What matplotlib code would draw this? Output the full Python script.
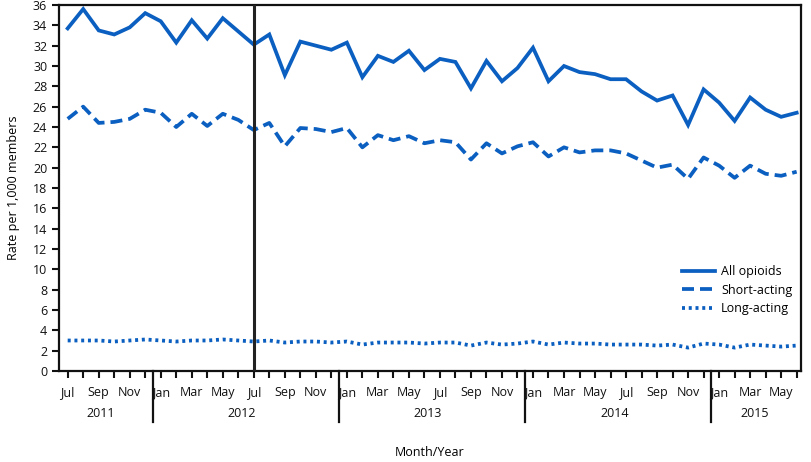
import matplotlib
matplotlib.use("Agg")
import matplotlib.pyplot as plt
import matplotlib.transforms as mtransforms

plt.rcParams['font.family'] = ['Open Sans', 'DejaVu Sans']

months = ["Jul", "Aug", "Sep", "Oct", "Nov", "Dec"] + \
         ["Jan", "Feb", "Mar", "Apr", "May", "Jun", "Jul", "Aug", "Sep", "Oct", "Nov", "Dec"] * 3 + \
         ["Jan", "Feb", "Mar", "Apr", "May", "Jun"]

all_opioids = [33.7, 35.6, 33.5, 33.1, 33.8, 35.2,
               34.4, 32.3, 34.5, 32.7, 34.7, 33.4, 32.1, 33.1, 29.1, 32.4, 32.0, 31.6,
               32.3, 28.9, 31.0, 30.4, 31.5, 29.6, 30.7, 30.4, 27.8, 30.5, 28.5, 29.8,
               31.8, 28.5, 30.0, 29.4, 29.2, 28.7, 28.7, 27.5, 26.6, 27.1, 24.2, 27.7,
               26.4, 24.6, 26.9, 25.7, 25.0, 25.4]
short_acting = [24.8, 26.0, 24.4, 24.5, 24.8, 25.7,
                25.4, 24.0, 25.3, 24.1, 25.3, 24.7, 23.7, 24.4, 22.1, 23.9, 23.8, 23.5,
                23.9, 22.0, 23.2, 22.7, 23.1, 22.4, 22.7, 22.5, 20.8, 22.4, 21.4, 22.1,
                22.5, 21.1, 22.0, 21.5, 21.7, 21.7, 21.4, 20.7, 20.0, 20.3, 18.9, 21.0,
                20.2, 19.0, 20.2, 19.4, 19.2, 19.6]
long_acting = [3.0, 3.0, 3.0, 2.9, 3.0, 3.1,
               3.0, 2.9, 3.0, 3.0, 3.1, 3.0, 2.9, 3.0, 2.8, 2.9, 2.9, 2.8,
               2.9, 2.6, 2.8, 2.8, 2.8, 2.7, 2.8, 2.8, 2.5, 2.8, 2.6, 2.7,
               2.9, 2.6, 2.8, 2.7, 2.7, 2.6, 2.6, 2.6, 2.5, 2.6, 2.3, 2.7,
               2.6, 2.3, 2.6, 2.5, 2.4, 2.5]
years = ["2011", "2012", "2013", "2014", "2015"]
year_label_pos = [2.1, 11.2, 23.2, 35.3, 44.3]
year_breaks = [5.5, 17.5, 29.5, 41.5]
marker_month = 12  # Jul 2012

color = "#0b5fc0"
x = list(range(len(months)))

fig = plt.figure(figsize=(8.12, 4.62), dpi=100)
ax = fig.add_axes([59/812, 91/462, 742/812, 366/462])

ax.plot(x, all_opioids, color=color, lw=2.7, solid_joinstyle='miter', label="All opioids")
ax.plot(x, short_acting, color=color, lw=2.7, dashes=(3.2, 1.6), label="Short-acting")
ax.plot(x, long_acting, color=color, lw=2.7, dashes=(0.8, 1.0), label="Long-acting")

ax.axvline(marker_month, color="#222222", lw=2.2, zorder=5)

ax.set_xlim(-0.56, 47.28)
ax.set_ylim(0, 36)
ax.set_yticks(range(0, 37, 2))
ax.set_xticks(x)
ax.set_xticklabels([m if i % 2 == 0 else "" for i, m in enumerate(months)])
ax.tick_params(axis='both', direction='out', length=5, width=1.5, labelsize=9, colors='#111111')
ax.tick_params(axis='x', pad=6)
for s in ax.spines.values():
    s.set_linewidth(1.6)
    s.set_color('#111111')

trans = mtransforms.blended_transform_factory(ax.transData, ax.transAxes)
for b in year_breaks:
    ax.plot([b, b], [0, -0.14], transform=trans, color='#111111', lw=1.6, clip_on=False)
for lbl, p in zip(years, year_label_pos):
    ax.text(p, -0.115, lbl, transform=trans, ha='center', va='center', fontsize=9, color='#111111')

ax.set_ylabel("Rate per 1,000 members", fontsize=9, labelpad=9)
fig.text(430/812, 1 - 452/462, "Month/Year", ha='center', va='center', fontsize=9)

leg = ax.legend(loc='upper left', bbox_to_anchor=(0.825, 0.32), frameon=False, fontsize=9,
                handlelength=2.6, handletextpad=0.5, labelspacing=0.45)

fig.savefig("out.png", dpi=100)
